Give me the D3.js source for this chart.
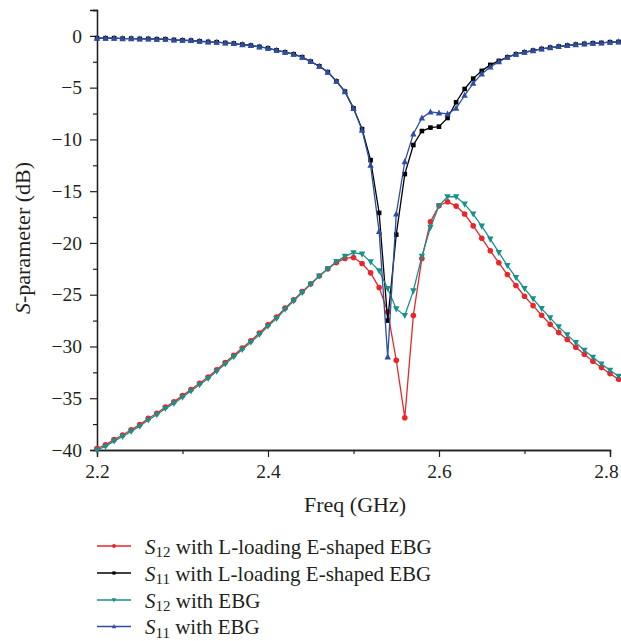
<!DOCTYPE html>
<html><head><meta charset="utf-8">
<script src="https://cdn.jsdelivr.net/npm/d3@7/dist/d3.min.js"></script>
<style>
html,body{margin:0;padding:0;background:#fff;}
svg text{font-family:"Liberation Serif","DejaVu Serif",serif;fill:#231f20;}
</style></head>
<body><svg id="chart" width="621" height="641"></svg>
<script>
const freq = [2.20,2.21,2.22,2.23,2.24,2.25,2.26,2.27,2.28,2.29,2.30,2.31,2.32,2.33,2.34,2.35,2.36,2.37,2.38,2.39,2.40,2.41,2.42,2.43,2.44,2.45,2.46,2.47,2.48,2.49,2.50,2.51,2.52,2.53,2.54,2.55,2.56,2.57,2.58,2.59,2.60,2.61,2.62,2.63,2.64,2.65,2.66,2.67,2.68,2.69,2.70,2.71,2.72,2.73,2.74,2.75,2.76,2.77,2.78,2.79,2.80,2.81];

const s12L = [-39.85,-39.5,-39.0,-38.55,-38.05,-37.55,-36.95,-36.45,-35.85,-35.35,-34.75,-34.15,-33.55,-32.95,-32.25,-31.55,-30.85,-30.15,-29.45,-28.7,-27.9,-27.15,-26.3,-25.5,-24.7,-23.95,-23.2,-22.5,-21.9,-21.5,-21.4,-21.98,-22.89,-24.31,-26.66,-31.33,-36.88,-27.01,-21.5,-17.96,-16.41,-16.02,-16.44,-17.21,-18.35,-19.54,-20.76,-21.92,-23.05,-24.11,-25.15,-26.05,-26.98,-27.85,-28.66,-29.33,-30.08,-30.75,-31.43,-32.04,-32.62,-33.17];

const s11L = [-0.22,-0.22,-0.22,-0.26,-0.26,-0.29,-0.29,-0.32,-0.32,-0.39,-0.42,-0.45,-0.52,-0.58,-0.61,-0.68,-0.74,-0.84,-0.93,-1.06,-1.19,-1.39,-1.58,-1.77,-2.06,-2.48,-2.93,-3.5,-4.38,-5.38,-7.0,-9.0,-12.0,-17.1,-27.5,-19.2,-13.35,-10.54,-9.19,-8.86,-8.77,-7.93,-6.41,-5.13,-4.13,-3.38,-2.8,-2.42,-2.06,-1.77,-1.58,-1.42,-1.26,-1.13,-1.03,-0.93,-0.84,-0.77,-0.71,-0.68,-0.61,-0.58];

const s12E = [-40.0,-39.65,-39.14,-38.7,-38.2,-37.7,-37.1,-36.6,-36.0,-35.5,-34.9,-34.3,-33.7,-33.1,-32.4,-31.7,-31.0,-30.3,-29.6,-28.85,-28.05,-27.3,-26.4,-25.6,-24.8,-24.0,-23.2,-22.5,-21.8,-21.3,-20.95,-21.08,-21.83,-22.7,-24.4,-26.37,-27.01,-24.63,-21.28,-18.5,-16.41,-15.54,-15.54,-16.25,-17.21,-18.38,-19.63,-20.92,-22.18,-23.34,-24.4,-25.4,-26.34,-27.24,-28.11,-28.88,-29.63,-30.37,-31.04,-31.69,-32.3,-32.88];

const s11E = [-0.22,-0.22,-0.22,-0.26,-0.26,-0.29,-0.29,-0.32,-0.32,-0.39,-0.42,-0.45,-0.52,-0.58,-0.61,-0.68,-0.74,-0.84,-0.93,-1.06,-1.19,-1.39,-1.58,-1.77,-2.06,-2.48,-2.93,-3.5,-4.38,-5.38,-7.0,-9.1,-12.5,-18.9,-31.0,-17.2,-12.15,-9.48,-7.93,-7.35,-7.45,-7.54,-6.99,-5.74,-4.58,-3.67,-3.0,-2.5,-2.06,-1.77,-1.58,-1.42,-1.26,-1.13,-1.03,-0.93,-0.84,-0.77,-0.71,-0.68,-0.61,-0.58];

const seriesNames = ["12","11","12","11"];
const seriesText = [" with L-loading E-shaped EBG"," with L-loading E-shaped EBG"," with EBG"," with EBG"];
const seriesColors = ["#e8262b","#000000","#16918b","#2f4ea2"];
const seriesMarkers = ["circle","square","triangleDown","triangleUp"];
const seriesValues = [s12L, s11L, s12E, s11E];

const xMajor = [2.2, 2.4, 2.6, 2.8];
const xMinor = [2.3, 2.5, 2.7];
const yMajor = [0, -5, -10, -15, -20, -25, -30, -35, -40];
const yMinor = [2.5, -2.5, -7.5, -12.5, -17.5, -22.5, -27.5, -32.5, -37.5];

const svg = d3.select("#chart");
const x = d3.scaleLinear().domain([2.2, 2.8]).range([97, 610]);
const y = d3.scaleLinear().domain([-40, 2.5]).range([450, 10]);

const fmtY = d => d3.format("d")(d);
const fmtX = d => d3.format(".1f")(d);

// axes
svg.append("g").attr("transform","translate(97,0)")
  .call(d3.axisLeft(y).tickValues(yMajor).tickSize(7).tickPadding(8).tickFormat(fmtY));
svg.append("g").attr("transform","translate(97,0)")
  .call(d3.axisLeft(y).tickValues(yMinor).tickSize(4).tickFormat(""));
const gx = svg.append("g").attr("transform","translate(0,450)")
  .call(d3.axisBottom(x).tickValues(xMajor).tickSize(7).tickPadding(7).tickFormat(fmtX));
svg.append("g").attr("transform","translate(0,450)")
  .call(d3.axisBottom(x).tickValues(xMinor).tickSize(4).tickFormat(""));
svg.selectAll(".domain").attr("stroke","#231f20").attr("stroke-width",1.3);
svg.selectAll(".tick line").attr("stroke","#231f20").attr("stroke-width",1.2);
svg.selectAll(".tick text").attr("font-size",19.5).attr("font-family","Liberation Serif, serif").attr("fill","#231f20");
gx.selectAll(".tick text").filter(d => d === 2.8).attr("dx", -4);

// axis titles
svg.append("text").attr("x",355).attr("y",512).attr("text-anchor","middle").attr("font-size",22).text("Freq (GHz)");
const yl = svg.append("text").attr("transform","translate(30,238) rotate(-90)").attr("text-anchor","middle").attr("font-size",22);
yl.append("tspan").attr("font-style","italic").text("S");
yl.append("tspan").text("-parameter (dB)");

function drawMarker(g, type, cx, cy, color, s) {
  if (type === "circle") {
    g.append("circle").attr("cx",cx).attr("cy",cy).attr("r",2.8*s).attr("fill",color);
  } else if (type === "square") {
    g.append("rect").attr("x",cx-2.3*s).attr("y",cy-2.3*s).attr("width",4.6*s).attr("height",4.6*s).attr("fill",color);
  } else if (type === "triangleDown") {
    const h = 3.2*s;
    g.append("path").attr("d",`M${cx-h},${cy-h*0.8}L${cx+h},${cy-h*0.8}L${cx},${cy+h*1.1}Z`).attr("fill",color);
  } else {
    const h = 3.2*s;
    g.append("path").attr("d",`M${cx-h},${cy+h*0.8}L${cx+h},${cy+h*0.8}L${cx},${cy-h*1.1}Z`).attr("fill",color);
  }
}

const line = d3.line().x(d => x(d[0])).y(d => y(d[1]));
seriesValues.forEach((vals, i) => {
  const pts = freq.map((f, j) => [f, vals[j]]);
  const g = svg.append("g");
  g.append("path").attr("d", line(pts)).attr("fill","none").attr("stroke",seriesColors[i]).attr("stroke-width",1.3);
  pts.forEach(p => drawMarker(g, seriesMarkers[i], x(p[0]), y(p[1]), seriesColors[i], 1));
});

// legend
const legY = [546, 573, 600, 626.5];
seriesValues.forEach((vals, i) => {
  const g = svg.append("g");
  const ly = legY[i];
  g.append("line").attr("x1",97).attr("x2",131).attr("y1",ly).attr("y2",ly).attr("stroke",seriesColors[i]).attr("stroke-width",1.3);
  drawMarker(g, seriesMarkers[i], 114, ly, seriesColors[i], 0.7);
  const t = g.append("text").attr("x",145).attr("y",ly+7.5).attr("font-size",21);
  t.append("tspan").attr("font-style","italic").text("S");
  t.append("tspan").attr("font-size",15).attr("dy",3.5).text(seriesNames[i]);
  t.append("tspan").attr("dy",-3.5).text(seriesText[i]);
});
</script></body></html>
